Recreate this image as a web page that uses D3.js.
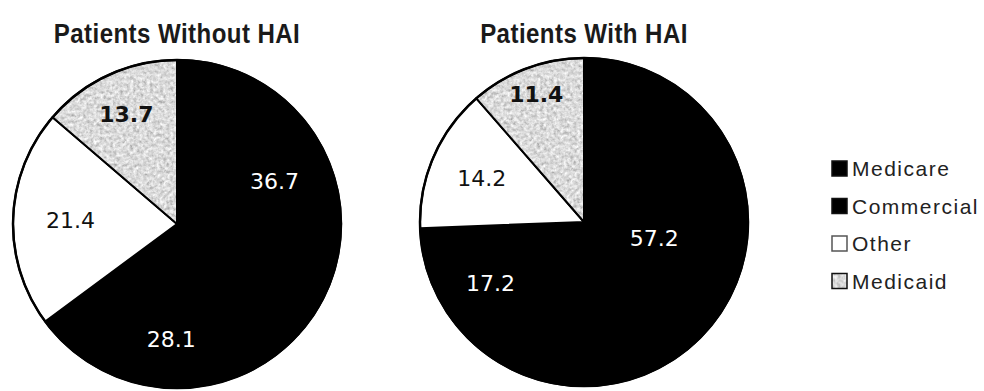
<!DOCTYPE html>
<html>
<head>
<meta charset="utf-8">
<script src="https://cdn.jsdelivr.net/npm/d3@7"></script>
<style>
  html, body { margin: 0; padding: 0; background: #fff; }
  svg { display: block; }
</style>
</head>
<body>
<svg id="chart" width="984" height="391"></svg>
<script>
// Payer mix, percent of patients
const categories = ["Medicare", "Commercial", "Other", "Medicaid"];
const withoutHAI = [36.7, 28.1, 21.4, 13.7];
const withHAI = [57.2, 17.2, 14.2, 11.4];
const titles = ["Patients Without HAI", "Patients With HAI"];

// Layout settings
const pieRadius = 164;
const pies = [
  { title: titles[0], values: withoutHAI, cx: 177, cy: 224, labelR: [0.65, 0.70, 0.65, 0.74] },
  { title: titles[1], values: withHAI,    cx: 584, cy: 222, labelR: [0.44, 0.68, 0.68, 0.83] }
];
const sans = "'Liberation Sans', Arial, sans-serif";

const fillFor = d3.scaleOrdinal()
  .domain(categories)
  .range(["#000000", "#000000", "#ffffff", "url(#medicaidFill)"]);
const labelColor = d3.scaleOrdinal()
  .domain(categories)
  .range(["#ffffff", "#ffffff", "#111111", "#111111"]);

const svg = d3.select("#chart");
const defs = svg.append("defs");

// Stippled grey for the Medicaid slice
const flt = defs.append("filter").attr("id", "speckle")
  .attr("x", 0).attr("y", 0).attr("width", "100%").attr("height", "100%");
flt.append("feTurbulence").attr("type", "fractalNoise")
  .attr("baseFrequency", 0.3).attr("numOctaves", 3).attr("seed", 11).attr("result", "noise");
flt.append("feColorMatrix").attr("in", "noise").attr("type", "matrix")
  .attr("values", "0.45 0.45 0.45 0 0.03  0.45 0.45 0.45 0 0.03  0.45 0.45 0.45 0 0.03  0 0 0 0 1")
  .attr("result", "grey");
flt.append("feComposite").attr("in", "grey").attr("in2", "SourceGraphic").attr("operator", "in");

const pat = defs.append("pattern").attr("id", "medicaidFill")
  .attr("patternUnits", "userSpaceOnUse").attr("width", 200).attr("height", 200);
pat.append("rect").attr("width", 200).attr("height", 200).attr("fill", "#b4b4b4")
  .attr("filter", "url(#speckle)");

const pie = d3.pie().sort(null).value(d => d.value);
const arc = d3.arc().innerRadius(0).outerRadius(pieRadius);

pies.forEach(p => {
  const rows = categories.map((c, i) => ({ category: c, value: p.values[i] }));
  const arcs = pie(rows);
  const g = svg.append("g").attr("transform", `translate(${p.cx},${p.cy})`);

  g.selectAll("path.slice")
    .data(arcs)
    .join("path")
    .attr("class", "slice")
    .attr("d", arc)
    .attr("fill", d => fillFor(d.data.category))
    .attr("stroke", "#000")
    .attr("stroke-width", 2)
    .attr("stroke-linejoin", "round");

  g.append("circle")
    .attr("r", pieRadius)
    .attr("fill", "none")
    .attr("stroke", "#000")
    .attr("stroke-width", 2.5);

  g.selectAll("text.value")
    .data(arcs)
    .join("text")
    .attr("class", "value")
    .attr("transform", (d, i) => {
      const r = pieRadius * p.labelR[i];
      const a = (d.startAngle + d.endAngle) / 2;
      return `translate(${Math.sin(a) * r},${-Math.cos(a) * r})`;
    })
    .attr("text-anchor", "middle")
    .attr("dy", "0.36em")
    .attr("font-family", "'DejaVu Sans', Verdana, sans-serif")
    .attr("font-size", 22)
    .attr("font-weight", d => d.data.category === "Medicaid" ? "bold" : "normal")
    .attr("fill", d => labelColor(d.data.category))
    .text(d => d.data.value.toFixed(1));

  // Condensed bold title
  svg.append("text")
    .attr("transform", `translate(${p.cx},43) scale(0.86,1)`)
    .attr("text-anchor", "middle")
    .attr("font-family", sans)
    .attr("font-size", 28)
    .attr("font-weight", "bold")
    .attr("letter-spacing", 0.5)
    .attr("fill", "#1a1a1a")
    .text(p.title);
});

// Legend
const legend = svg.append("g").attr("transform", "translate(831,160)");
const item = legend.selectAll("g.item")
  .data(categories)
  .join("g")
  .attr("class", "item")
  .attr("transform", (d, i) => `translate(0,${i * 37.5})`);

item.append("rect")
  .attr("x", 1).attr("y", 1)
  .attr("width", 15).attr("height", 15)
  .attr("fill", d => fillFor(d))
  .attr("stroke", d => d === "Other" ? "#555" : "#111")
  .attr("stroke-width", 1.5);

item.append("text")
  .attr("x", 21)
  .attr("y", 16)
  .attr("font-family", sans)
  .attr("font-size", 21)
  .attr("letter-spacing", 1.5)
  .attr("fill", "#222")
  .text(d => d);
</script>
</body>
</html>
